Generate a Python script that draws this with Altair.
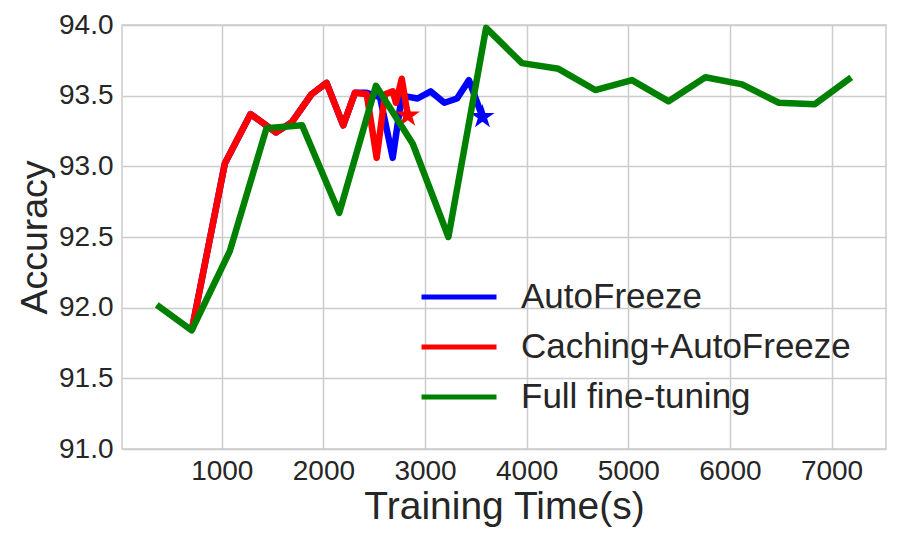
import altair as alt
import pandas as pd

# Data
series_names = ["AutoFreeze", "Caching+AutoFreeze", "Full fine-tuning"]
series_colors = ["#0000ff", "#ff0000", "#008000"]

auto_x = [704, 1030, 1283, 1532, 1686, 1883, 2031, 2195, 2310, 2426, 2557, 2682, 2771, 2926, 3056, 3190, 3315, 3432, 3565]
auto_y = [91.84, 93.02, 93.37, 93.24, 93.31, 93.51, 93.59, 93.29, 93.52, 93.52, 93.49, 93.06, 93.50, 93.48, 93.53, 93.45, 93.48, 93.61, 93.35]

cach_x = [704, 1030, 1283, 1532, 1686, 1883, 2031, 2195, 2310, 2426, 2524, 2606, 2682, 2714, 2771, 2830]
cach_y = [91.84, 93.02, 93.37, 93.24, 93.31, 93.51, 93.59, 93.29, 93.52, 93.51, 93.06, 93.51, 93.53, 93.45, 93.62, 93.36]

full_x = [360, 704, 1079, 1440, 1790, 2156, 2517, 2879, 3230, 3601, 3953, 4313, 4675, 5036, 5397, 5759, 6120, 6481, 6836, 7194]
full_y = [92.02, 91.84, 92.40, 93.27, 93.29, 92.67, 93.57, 93.16, 92.50, 93.98, 93.73, 93.69, 93.54, 93.61, 93.46, 93.63, 93.58, 93.45, 93.44, 93.63]

x_ticks = [1000, 2000, 3000, 4000, 5000, 6000, 7000]
y_ticks = [91.0, 91.5, 92.0, 92.5, 93.0, 93.5, 94.0]

rows = []
for name, xs_, ys_ in zip(series_names, [auto_x, cach_x, full_x], [auto_y, cach_y, full_y]):
    for k, (a, b) in enumerate(zip(xs_, ys_)):
        rows.append({"t": a, "acc": b, "series": name, "i": k})
df = pd.DataFrame(rows)

FONT = "Liberation Sans"
TXT = "#262626"
GRID = "#cccccc"
STAR_PATH = ("M0,-1L0.2245,-0.309L0.9511,-0.309L0.3633,0.118L0.5878,0.809L0,0.382"
             "L-0.5878,0.809L-0.3633,0.118L-0.9511,-0.309L-0.2245,-0.309Z")

xs = alt.X("t:Q", scale=alt.Scale(domain=[18, 7536], nice=False, zero=False),
           axis=alt.Axis(values=x_ticks, format="d", title="Training Time(s)"))
ys = alt.Y("acc:Q", scale=alt.Scale(domain=[91.0, 94.0], nice=False, zero=False),
           axis=alt.Axis(values=y_ticks, format=".1f", title="Accuracy"))
color = alt.Color("series:N",
                  scale=alt.Scale(domain=series_names, range=series_colors),
                  legend=alt.Legend(title=None, orient="none", legendX=297, legendY=247,
                                    symbolType="stroke", symbolSize=5625,
                                    symbolStrokeWidth=5, labelFontSize=35,
                                    labelFont=FONT, labelColor=TXT, labelOffset=22,
                                    labelLimit=0, rowPadding=0, clipHeight=50, padding=0))

base = alt.Chart(df)


def line(name):
    return base.transform_filter(alt.datum.series == name).mark_line(
        strokeWidth=6.5, strokeJoin="round").encode(x=xs, y=ys, color=color, order="i:Q")


def star(name, col):
    return base.transform_filter(alt.datum.series == name).transform_window(
        rk="rank()", sort=[alt.SortField("i", order="descending")]
    ).transform_filter(alt.datum.rk == 1).mark_point(
        shape=STAR_PATH, filled=True, size=650, opacity=1, color=col, strokeWidth=0
    ).encode(x=xs, y=ys)


chart = alt.layer(
    line(series_names[0]), star(series_names[0], series_colors[0]),
    line(series_names[1]), star(series_names[1], series_colors[1]),
    line(series_names[2]),
).properties(
    width=764, height=424,
    autosize=alt.AutoSizeParams(type="none"),
    padding={"left": 114, "top": 17, "right": 6, "bottom": 85},
).configure_view(
    stroke=GRID, strokeWidth=1.5
).configure_axis(
    labelFont=FONT, labelFontSize=28, labelColor=TXT,
    titleFont=FONT, titleFontWeight="normal", titleColor=TXT,
    grid=True, gridColor=GRID, gridWidth=1.5,
    ticks=False, domain=False,
).configure_axisX(
    labelPadding=8, titlePadding=2, titleFontSize=39
).configure_axisY(
    labelPadding=9, titlePadding=4, titleFontSize=37.5
)

chart.save("out.html", embed_options={"renderer": "svg", "actions": False})
